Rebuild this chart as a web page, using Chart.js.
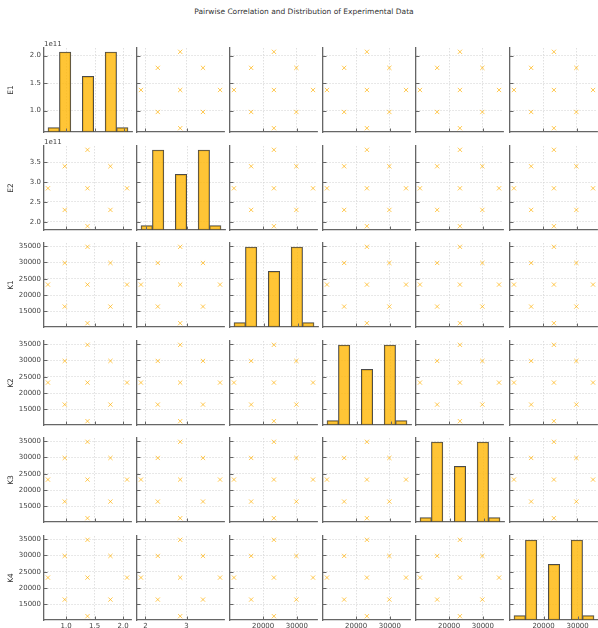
<!DOCTYPE html>
<html>
<head>
<meta charset="utf-8">
<script src="https://cdn.jsdelivr.net/npm/chart.js@4.4.1/dist/chart.umd.min.js"></script>
<style>
  html, body { margin: 0; padding: 0; background: #fff; }
  #fig { position: relative; width: 598px; height: 628px; overflow: hidden; font-family: "DejaVu Sans", sans-serif; }
  #fig canvas { position: absolute; }
  #title { position: absolute; top: 7px; left: 0; width: 608px; text-align: center; font-size: 7.5px; line-height: 9px; color: #333; }
</style>
</head>
<body>
<div id="fig"><div id="title">Pairwise Correlation and Distribution of Experimental Data</div></div>
<script>
const variables = ['E1', 'E2', 'K1', 'K2', 'K3', 'K4'];

// Five distinct levels taken by each variable
const e1Values = [0.680e11, 0.975e11, 1.375e11, 1.778e11, 2.070e11];
const e2Values = [1.890e11, 2.300e11, 2.845e11, 3.400e11, 3.815e11];
const k1Values = [11350, 16450, 23200, 29850, 34800];
const k2Values = [11350, 16450, 23200, 29850, 34800];
const k3Values = [11350, 16450, 23200, 29850, 34800];
const k4Values = [11350, 16450, 23200, 29850, 34800];

// Level indices [x, y] of the nine observations in each off-diagonal panel
const scatterPairs = [[0, 2], [1, 1], [1, 3], [2, 0], [2, 2], [2, 4], [3, 1], [3, 3], [4, 2]];

// Counts in the seven histogram bins on the diagonal
const binCounts = [2, 36, 0, 25, 0, 36, 2];

// Tick values and labels
const e1Ticks = [1.0e11, 1.5e11, 2.0e11];
const e1TickLabels = ['1.0', '1.5', '2.0'];
const e2RowTicks = [2.0e11, 2.5e11, 3.0e11, 3.5e11];
const e2RowTickLabels = ['2.0', '2.5', '3.0', '3.5'];
const e2ColTicks = [2e11, 3e11];
const e2ColTickLabels = ['2', '3'];
const kRowTicks = [15000, 20000, 25000, 30000, 35000];
const kRowTickLabels = ['15000', '20000', '25000', '30000', '35000'];
const kColTicks = [20000, 30000];
const kColTickLabels = ['20000', '30000'];

const valuesByVar = { E1: e1Values, E2: e2Values, K1: k1Values, K2: k2Values, K3: k3Values, K4: k4Values };
const rowTicksByVar = {
  E1: [e1Ticks, e1TickLabels], E2: [e2RowTicks, e2RowTickLabels],
  K1: [kRowTicks, kRowTickLabels], K2: [kRowTicks, kRowTickLabels],
  K3: [kRowTicks, kRowTickLabels], K4: [kRowTicks, kRowTickLabels]
};
const colTicksByVar = {
  E1: [e1Ticks, e1TickLabels], E2: [e2ColTicks, e2ColTickLabels],
  K1: [kColTicks, kColTickLabels], K2: [kColTicks, kColTickLabels],
  K3: [kColTicks, kColTickLabels], K4: [kColTicks, kColTickLabels]
};
const offsetTextByVar = { E1: '1e11', E2: '1e11' };

// Panel geometry
const GRID = { left: 43.5, top: 48, colStep: 93.2, rowStep: 97.5, w: 88, h: 84 };
const PAD = { l: 40, t: 10, r: 4, b: 14 };

const MARK = 'rgba(255, 176, 0, 0.68)';
const BAR_FILL = 'rgba(255, 184, 10, 0.82)';
const BAR_EDGE = '#4a4a4a';
const SPINE = '#666';
const GRIDC = '#d8d8d8';
const TICKC = '#444';

function limits(vals) {
  const lo = Math.min(...vals), hi = Math.max(...vals);
  const m = (hi - lo) * 0.05;
  return [lo - m, hi + m];
}

// Inward tick marks plus the scientific offset label above the y axis
const innerTicks = {
  id: 'innerTicks',
  afterDraw(chart, args, opts) {
    const { ctx, chartArea: a, scales } = chart;
    ctx.save();
    ctx.strokeStyle = SPINE;
    ctx.lineWidth = 1;
    for (const t of scales.x.ticks) {
      const px = Math.round(scales.x.getPixelForValue(t.value)) + 0.5;
      ctx.beginPath(); ctx.moveTo(px, a.bottom); ctx.lineTo(px, a.bottom - 3.5); ctx.stroke();
    }
    for (const t of scales.y.ticks) {
      const py = Math.round(scales.y.getPixelForValue(t.value)) + 0.5;
      ctx.beginPath(); ctx.moveTo(a.left, py); ctx.lineTo(a.left + 3.5, py); ctx.stroke();
    }
    if (opts && opts.text) {
      ctx.fillStyle = TICKC;
      ctx.font = '7px "DejaVu Sans"';
      ctx.textBaseline = 'alphabetic';
      ctx.textAlign = 'left';
      ctx.fillText(opts.text, a.left, a.top - 2);
    }
    ctx.restore();
  }
};

function axisOptions(lim, tickPair, showLabels, fitSize, horizontal) {
  const [vals, labels] = tickPair;
  return {
    type: 'linear',
    min: lim[0],
    max: lim[1],
    offset: false,
    afterBuildTicks: s => { s.ticks = vals.map(v => ({ value: v })); },
    afterFit: s => { if (horizontal) s.height = fitSize; else s.width = fitSize; },
    ticks: {
      display: showLabels,
      callback: (v, i) => labels[i],
      font: { family: 'DejaVu Sans', size: 7 },
      color: TICKC,
      padding: horizontal ? 2 : 3,
      maxRotation: 0,
      autoSkip: false
    },
    grid: { color: GRIDC, lineWidth: 0.8, drawTicks: false, offset: false },
    border: { display: true, color: SPINE, width: 1.3, dash: [1.5, 1.5] }
  };
}

const fig = document.getElementById('fig');

variables.forEach((rowVar, r) => {
  variables.forEach((colVar, c) => {
    const left = Math.round(GRID.left + c * GRID.colStep);
    const top = Math.round(GRID.top + r * GRID.rowStep);
    const canvas = document.createElement('canvas');
    const cw = GRID.w + PAD.l + PAD.r, ch = GRID.h + PAD.t + PAD.b;
    canvas.width = cw; canvas.height = ch;
    canvas.style.width = cw + 'px'; canvas.style.height = ch + 'px';
    canvas.style.left = (left - PAD.l) + 'px';
    canvas.style.top = (top - PAD.t) + 'px';
    fig.appendChild(canvas);

    const xVals = valuesByVar[colVar], yVals = valuesByVar[rowVar];
    const xLim = limits(xVals), yLim = limits(yVals);

    const xAxis = axisOptions(xLim, colTicksByVar[colVar], r === variables.length - 1, PAD.b, true);
    const yAxis = axisOptions(yLim, rowTicksByVar[rowVar], c === 0, PAD.l, false);
    if (c === 0) {
      yAxis.title = { display: true, text: rowVar, color: '#333', font: { family: 'DejaVu Sans', size: 7.5 }, padding: { top: 3, bottom: 0 } };
    }

    const common = {
      responsive: false,
      animation: false,
      devicePixelRatio: 1,
      layout: { padding: { left: 0, top: PAD.t, right: PAD.r, bottom: 0 } },
      plugins: {
        legend: { display: false },
        tooltip: { enabled: false },
        innerTicks: { text: c === 0 ? (offsetTextByVar[rowVar] || '') : '' }
      }
    };

    let config;
    if (r === c) {
      // Histogram: seven equal bins spanning the variable's range
      const lo = Math.min(...xVals), hi = Math.max(...xVals);
      const bw = (hi - lo) / binCounts.length;
      const data = binCounts.map((n, i) => ({ x: lo + bw * (i + 0.5), y: n }));
      config = {
        type: 'bar',
        data: { datasets: [{
          data,
          xAxisID: 'x', yAxisID: 'yCount',
          backgroundColor: BAR_FILL,
          borderColor: BAR_EDGE,
          borderWidth: 1,
          borderSkipped: false,
          barPercentage: 1,
          categoryPercentage: 1
        }] },
        options: Object.assign(common, {
          scales: {
            x: xAxis,
            y: yAxis,
            yCount: { type: 'linear', display: false, min: 0, max: Math.max(...binCounts) * 1.05 }
          }
        })
      };
    } else {
      const data = scatterPairs.map(([i, j]) => ({ x: xVals[i], y: yVals[j] }));
      config = {
        type: 'scatter',
        data: { datasets: [{
          data,
          pointStyle: 'crossRot',
          radius: 3,
          borderWidth: 1,
          borderColor: MARK,
          backgroundColor: MARK
        }] },
        options: Object.assign(common, { scales: { x: xAxis, y: yAxis } })
      };
    }
    config.plugins = [innerTicks];
    new Chart(canvas, config);
  });
});
</script>
</body>
</html>
